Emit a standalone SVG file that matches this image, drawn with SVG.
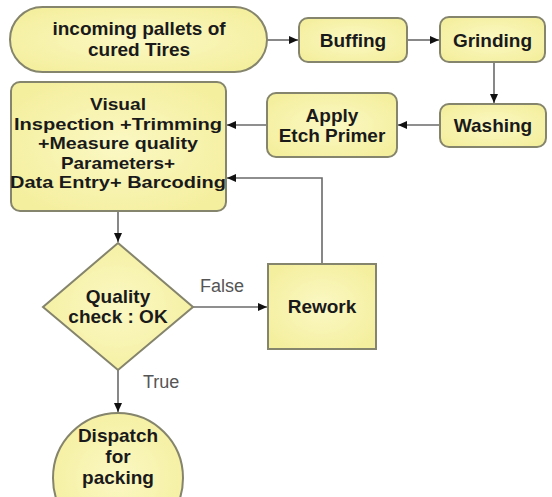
<svg xmlns="http://www.w3.org/2000/svg" width="552" height="497" viewBox="0 0 552 497">
<defs>
<marker id="ah" markerUnits="userSpaceOnUse" markerWidth="10" markerHeight="10" refX="9" refY="4" orient="auto">
<path d="M0,0 L9,4 L0,8 Z" fill="#111"/>
</marker>
<radialGradient id="yf" cx="50%" cy="50%" r="60%">
<stop offset="0" stop-color="#fbf8c4"/>
<stop offset="1" stop-color="#f4ef9e"/>
</radialGradient>
</defs>
<style>
.n{fill:url(#yf);stroke:#85846c;stroke-width:2}
.t{font-family:"Liberation Sans",Arial,sans-serif;font-weight:bold;font-size:19px;fill:#1a1a1a;text-anchor:middle}
.tv{font-size:16.5px}
.lbl{font-family:"Liberation Sans",Arial,sans-serif;font-size:18px;fill:#555;text-anchor:start}
.c{fill:none;stroke:#6a6a6a;stroke-width:1.6;marker-end:url(#ah)}
</style>
<rect width="552" height="497" fill="#ffffff"/>
<g id="connectors">
<path class="c" d="M267,40 L298,40"/>
<path class="c" d="M407,40 L439,40"/>
<path class="c" d="M494,62 L494,103"/>
<path class="c" d="M440,125 L398,125"/>
<path class="c" d="M267,125 L227,125"/>
<path class="c" d="M322,264 L322,178 L227,178"/>
<path class="c" d="M118,211 L118,242"/>
<path class="c" d="M193,307 L267,307"/>
<path class="c" d="M118,370 L118,412"/>
<text class="lbl" x="200" y="292">False</text>
<text class="lbl" x="143" y="388">True</text>
</g>
<g id="incoming">
<rect class="n" x="10" y="7" width="257" height="65" rx="32.5"/>
<text class="t" x="139" y="35">incoming pallets of</text>
<text class="t" x="139" y="56">cured Tires</text>
</g>
<g id="buffing">
<rect class="n" x="299" y="18" width="108" height="44" rx="9"/>
<text class="t" x="353" y="47">Buffing</text>
</g>
<g id="grinding">
<rect class="n" x="440" y="17" width="105" height="45" rx="9"/>
<text class="t" x="492.5" y="47">Grinding</text>
</g>
<g id="washing">
<rect class="n" x="440" y="104" width="106" height="43" rx="9"/>
<text class="t" x="493" y="132">Washing</text>
</g>
<g id="apply">
<rect class="n" x="267" y="93" width="130" height="64" rx="9"/>
<text class="t" x="332" y="122">Apply</text>
<text class="t" x="332" y="142">Etch Primer</text>
</g>
<g id="visual">
<rect class="n" x="11" y="82" width="215" height="129" rx="9"/>
<text class="t tv" x="118" y="110" textLength="56" lengthAdjust="spacingAndGlyphs">Visual</text>
<text class="t tv" x="118" y="129.5" textLength="208" lengthAdjust="spacingAndGlyphs">Inspection +Trimming</text>
<text class="t tv" x="118" y="149" textLength="160" lengthAdjust="spacingAndGlyphs">+Measure quality</text>
<text class="t tv" x="118" y="168.5" textLength="114" lengthAdjust="spacingAndGlyphs">Parameters+</text>
<text class="t tv" x="118" y="188" textLength="216" lengthAdjust="spacingAndGlyphs">Data Entry+ Barcoding</text>
</g>
<g id="quality">
<path class="n" d="M118,243 L193,307 L118,370 L43,307 Z"/>
<text class="t" x="118" y="303">Quality</text>
<text class="t" x="118" y="323">check : OK</text>
</g>
<g id="rework">
<rect class="n" x="268" y="264" width="108" height="85"/>
<text class="t" x="322" y="313">Rework</text>
</g>
<g id="dispatch">
<circle class="n" cx="118" cy="478" r="65"/>
<text class="t" x="118" y="442">Dispatch</text>
<text class="t" x="118" y="463">for</text>
<text class="t" x="118" y="484">packing</text>
</g>
</svg>
